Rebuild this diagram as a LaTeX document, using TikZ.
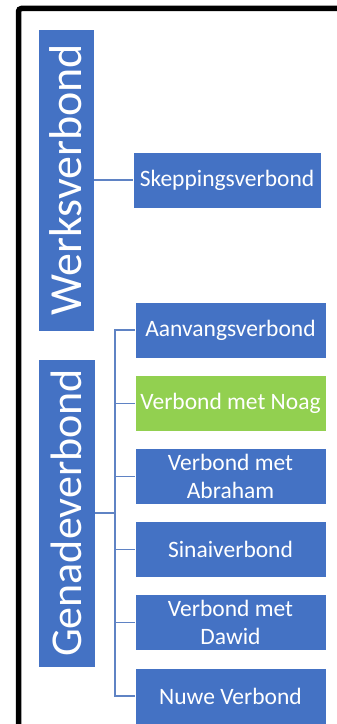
\documentclass[tikz,border=0pt]{standalone}
\usepackage{fontspec}
\setmainfont{Carlito}
\definecolor{boxblue}{HTML}{4472C4}
\definecolor{boxgreen}{HTML}{92D050}
\definecolor{lineblue}{HTML}{5F83C4}
\tikzstyle{box} = [rectangle, minimum width=191pt, minimum height=56pt, draw=white, line width=0.6pt, fill=boxblue, text=white, align=center, inner sep=0pt, font=\fontsize{23.5}{28}\selectfont]
\tikzstyle{bigbox} = [rectangle, rotate=90, draw=white, line width=0.6pt, fill=boxblue, text=white, inner sep=0pt]
\tikzstyle{line} = [lineblue, line width=1.3pt]

\begin{document}
\begin{tikzpicture}[node distance=73.2pt, x=1pt, y=1pt]
    \useasboundingbox (0,0) rectangle (337,724);
    \clip (0,0) rectangle (337,724);
    \draw[line width=5.5pt, rounded corners=3pt] (18.5,-10) -- (18.5,715.5) -- (350,715.5);

    \node (1) [bigbox, minimum width=302pt, minimum height=56pt, font=\fontsize{46}{50}\selectfont] at (66,544) {Werksverbond};
    \node (2) [box, minimum width=188pt] at (227,544) {Skeppingsverbond};
    \node (3) [bigbox, minimum width=308pt, minimum height=57pt, font=\fontsize{44}{48}\selectfont] at (66.5,211) {Genadeverbond};
    \node (4) [box] at (230.5,394) {Aanvangsverbond};
    \node (5) [box, fill=boxgreen, below of=4] {Verbond met Noag};
    \node (6) [box, below of=5] {Verbond met\\Abraham};
    \node (7) [box, below of=6] {Sinaiverbond};
    \node (8) [box, below of=7] {Verbond met\\Dawid};
    \node (9) [box, below of=8] {Nuwe Verbond};
    \coordinate (fork) at (115,211);

    \draw[line] (1) -- (2);
    \draw[line] (3) -- (fork);
    \foreach \n in {4,...,9}
        \draw[line] (fork) |- (\n);
  \end{tikzpicture}
\end{document}
